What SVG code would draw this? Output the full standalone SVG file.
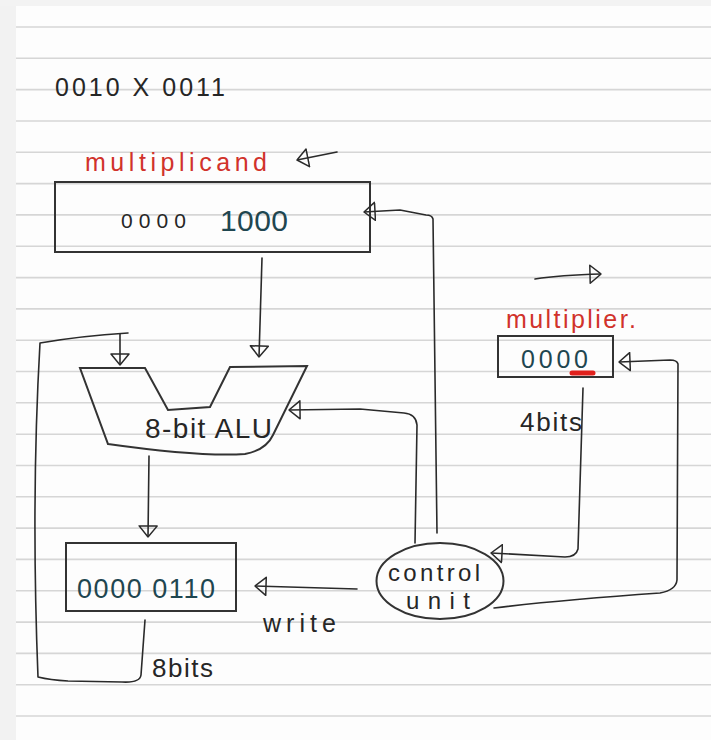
<svg xmlns="http://www.w3.org/2000/svg" width="711" height="740" viewBox="0 0 711 740">
<style>
.hand{font-family:"Liberation Sans","DejaVu Sans",sans-serif;fill:#262626}
.red{fill:#d1322b}
.teal{fill:#1f4650}
.box{fill:none;stroke:#333;stroke-width:2}
.wire{fill:none;stroke:#2a2a2a;stroke-width:1.6;stroke-linecap:round;stroke-linejoin:round}
.rule{stroke:#d6d6d6;stroke-width:1.6}
</style>
<defs>
<marker id="ah" viewBox="0 0 12 20" markerWidth="12" markerHeight="20" refX="12" refY="10" orient="auto" markerUnits="userSpaceOnUse">
<path d="M1,1 L12,10 L1,19 Z" fill="none" stroke="#2a2a2a" stroke-width="1.5" stroke-linejoin="round"/>
</marker>
</defs>
<g id="paper">
<rect x="0" y="0" width="711" height="740" fill="#fdfdfd"/>
<rect x="0" y="0" width="16" height="740" fill="#f2f2f2"/>
<rect x="0" y="0" width="711" height="6" fill="#f3f3f3"/>
<g class="rule">
<line x1="16" y1="27" x2="711" y2="27"/><line x1="16" y1="58.3" x2="711" y2="58.3"/><line x1="16" y1="89.6" x2="711" y2="89.6"/><line x1="16" y1="121" x2="711" y2="121"/><line x1="16" y1="152.3" x2="711" y2="152.3"/><line x1="16" y1="183.6" x2="711" y2="183.6"/><line x1="16" y1="214.9" x2="711" y2="214.9"/><line x1="16" y1="246.2" x2="711" y2="246.2"/><line x1="16" y1="277.6" x2="711" y2="277.6"/><line x1="16" y1="308.9" x2="711" y2="308.9"/><line x1="16" y1="340.2" x2="711" y2="340.2"/><line x1="16" y1="371.5" x2="711" y2="371.5"/><line x1="16" y1="402.8" x2="711" y2="402.8"/><line x1="16" y1="434.2" x2="711" y2="434.2"/><line x1="16" y1="465.5" x2="711" y2="465.5"/><line x1="16" y1="496.8" x2="711" y2="496.8"/><line x1="16" y1="528.1" x2="711" y2="528.1"/><line x1="16" y1="559.4" x2="711" y2="559.4"/><line x1="16" y1="590.8" x2="711" y2="590.8"/><line x1="16" y1="622.1" x2="711" y2="622.1"/><line x1="16" y1="653.4" x2="711" y2="653.4"/><line x1="16" y1="684.7" x2="711" y2="684.7"/><line x1="16" y1="716" x2="711" y2="716"/>
</g>
</g>
<g id="title">
<text class="hand" x="55" y="96" font-size="25" textLength="170" lengthAdjust="spacing">0010 X 0011</text>
</g>
<g id="multiplicand">
<text class="hand red" x="85" y="171" font-size="25" textLength="182" lengthAdjust="spacing">multiplicand</text>
<rect class="box" x="55" y="182" width="315" height="70"/>
<text class="hand" x="121" y="228" font-size="21" textLength="65" lengthAdjust="spacing">0000</text>
<text class="hand teal" x="220" y="231" font-size="30" textLength="68" lengthAdjust="spacing">1000</text>
</g>
<g id="alu">
<path class="box" d="M80,368 L145,368 L168,410 L210,407 L230,367 L307,366 L273,435 Q266,450 245,454 Q200,457 108,444 Z" stroke-width="1.8"/>
<text class="hand" x="145" y="438" font-size="28" textLength="127" lengthAdjust="spacing">8-bit ALU</text>
</g>
<g id="multiplier">
<text class="hand red" x="506" y="328" font-size="25" textLength="130" lengthAdjust="spacing">multiplier.</text>
<rect class="box" x="498" y="336" width="115" height="41"/>
<text class="hand teal" x="521" y="368" font-size="25" textLength="67" lengthAdjust="spacing">0000</text>
<line x1="572" y1="373" x2="593" y2="373" stroke="#e0201c" stroke-width="5" stroke-linecap="round"/>
<text class="hand" x="520" y="431" font-size="26" textLength="62" lengthAdjust="spacing">4bits</text>
</g>
<g id="product">
<rect class="box" x="66" y="543" width="170" height="68"/>
<text class="hand teal" x="77" y="598" font-size="27" textLength="138" lengthAdjust="spacing">0000 0110</text>
<text class="hand" x="263" y="632" font-size="25" textLength="73" lengthAdjust="spacing">write</text>
<text class="hand" x="152" y="677" font-size="26" textLength="61" lengthAdjust="spacing">8bits</text>
</g>
<g id="control">
<ellipse class="box" cx="440" cy="581" rx="63.5" ry="38" stroke-width="1.8"/>
<text class="hand" x="388" y="581" font-size="24" textLength="92" lengthAdjust="spacing">control</text>
<text class="hand" x="406" y="609" font-size="24" textLength="64" lengthAdjust="spacing">unit</text>
</g>
<g id="connectors" class="wire">
<path d="M337,152 L297,160" marker-end="url(#ah)"/>
<path d="M535,279 Q560,275 601,274" marker-end="url(#ah)"/>
<path d="M262,258 L259,357" marker-end="url(#ah)"/>
<path d="M437,533 L433,219 Q432,215 426,215 L400,210 L364,212" marker-end="url(#ah)"/>
<path d="M415,543 L417,425 Q416,414 404,413 L360,409 L289,410" marker-end="url(#ah)"/>
<path d="M583,388 L578,549 Q576,557 565,557 L491,553" marker-end="url(#ah)"/>
<path d="M494,608 Q560,600 660,593 Q676,590 677,580 L678,364 Q677,360 670,360 L619,362" marker-end="url(#ah)"/>
<path d="M145,620 L141,675 Q140,683 122,682 L68,681 Q50,680 38,677 Q31,500 40,343 Q80,336 128,333"/>
<path d="M120,334 L120,365" marker-end="url(#ah)"/>
<path d="M149,456 L148,537" marker-end="url(#ah)"/>
<path d="M357,589 L255,586" marker-end="url(#ah)"/>
</g>
</svg>
